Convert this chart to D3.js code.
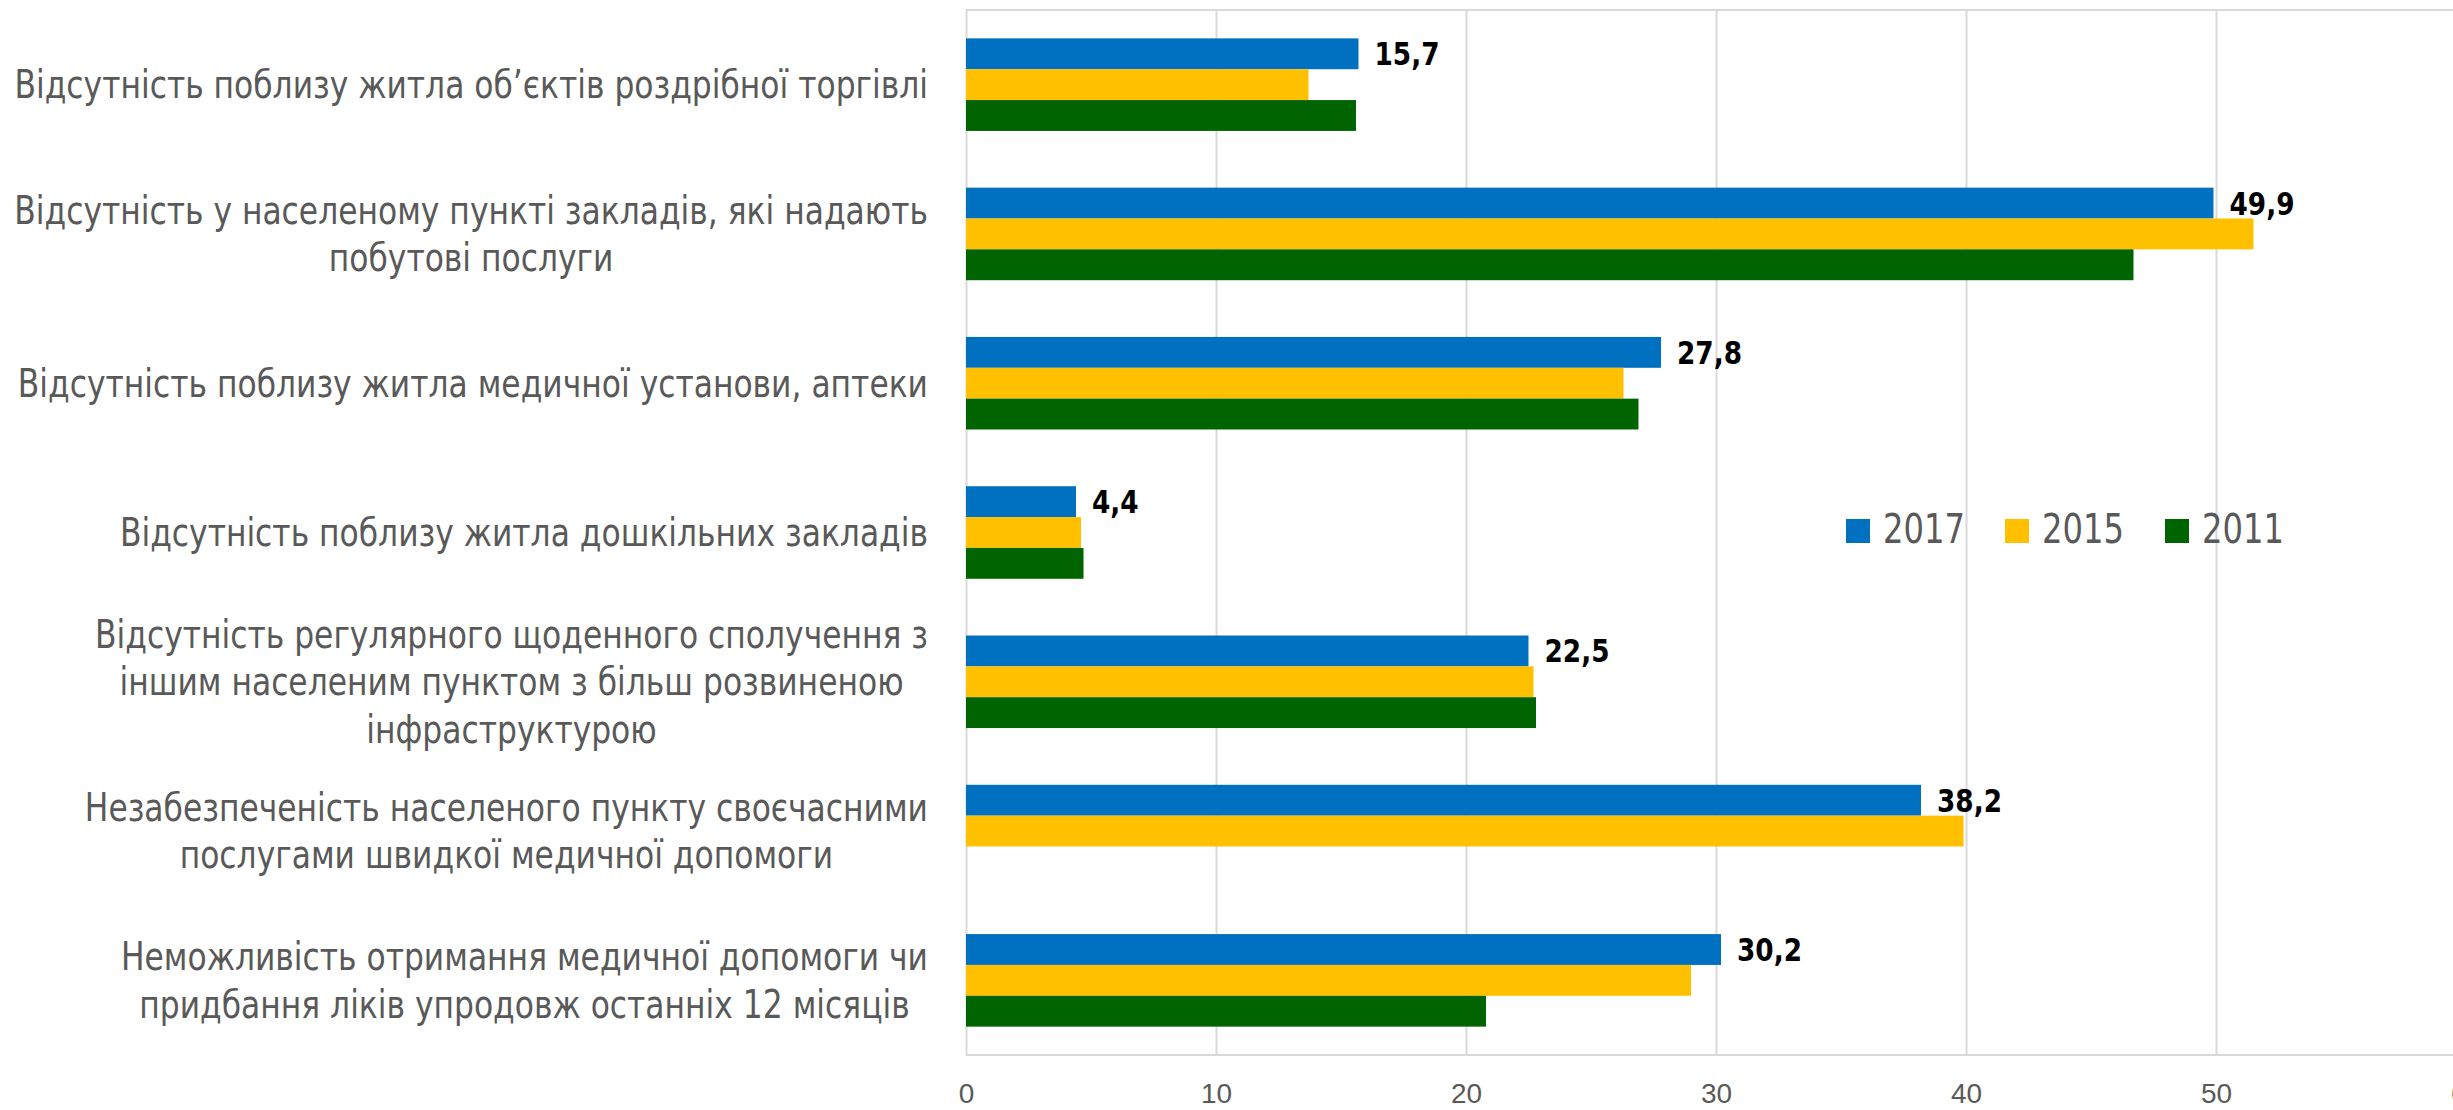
<!DOCTYPE html>
<html>
<head>
<meta charset="utf-8">
<script src="https://cdn.jsdelivr.net/npm/d3@7"></script>
<style>
body { margin: 0; background: #fff; }
svg { display: block; font-family: "Liberation Sans Narrow", "DejaVu Sans Condensed", Roboto, sans-serif; }
</style>
</head>
<body>
<svg id="chart"></svg>
<script>

    // Data
    var categories = [
        ["Відсутність поблизу житла об’єктів роздрібної торгівлі"],
        ["Відсутність у населеному пункті закладів, які надають", "побутові послуги"],
        ["Відсутність поблизу житла медичної установи, аптеки"],
        ["Відсутність поблизу житла дошкільних закладів"],
        ["Відсутність регулярного щоденного сполучення з", "іншим населеним пунктом з більш розвиненою", "інфраструктурою"],
        ["Незабезпеченість населеного пункту своєчасними", "послугами швидкої медичної допомоги"],
        ["Неможливість отримання медичної допомоги чи", "придбання ліків упродовж останніх 12 місяців"]
    ];
    var series = ["2017", "2015", "2011"];
    var values2017 = [15.7, 49.9, 27.8, 4.4, 22.5, 38.2, 30.2];
    var values2015 = [13.7, 51.5, 26.3, 4.6, 22.7, 39.9, 29.0];
    var values2011 = [15.6, 46.7, 26.9, 4.7, 22.8, null, 20.8];
    var xTicks = [0, 10, 20, 30, 40, 50, 60];
    var colors = ["#0070C0", "#FFC000", "#006400"];

    var width = 2453;
    var height = 1110;
    var plotTop = 10;
    var plotBottom = 1055;
    var tall = 1.12; // glyphs in the original are taller than the fallback font

    var svg = d3.select("#chart").attr("width", width).attr("height", height);

    // size a font so that a given text has a given width
    function fitFont(text, weight, target) {
        var t = svg.append("text").attr("font-size", 100).attr("font-weight", weight).text(text);
        var w = t.node().getComputedTextLength();
        t.remove();
        return 100 * target / w;
    }
    // enlarge glyphs but keep the width they had
    function stretch(sel) {
        sel.each(function () {
            var t = d3.select(this);
            var w = this.getComputedTextLength();
            t.attr("font-size", +t.attr("font-size") * tall)
                .attr("textLength", w)
                .attr("lengthAdjust", "spacingAndGlyphs");
        });
    }
    var labelSize = fitFont(categories[0][0], "normal", 914);
    var tickSize = fitFont("50", "normal", 32);
    var valueSize = fitFont("49,9", "bold", 65);
    var legendSize = fitFont("2017", "normal", 82);

    var x = d3.scaleLinear().domain([0, 60]).range([966, 2466]);
    var y = d3.scaleBand()
        .domain(d3.range(categories.length))
        .range([plotTop, plotBottom])
        .paddingInner(0.38)
        .paddingOuter(0.19);
    var ySub = d3.scaleBand().domain(series).range([0, y.bandwidth()]);

    var rows = categories.map(function (c, i) {
        return { i: i, lines: c, vals: [values2017[i], values2015[i], values2011[i]] };
    });

    // gridlines
    svg.append("g")
        .attr("transform", "translate(0," + plotBottom + ")")
        .call(d3.axisBottom(x).tickValues(xTicks).tickSize(-(plotBottom - plotTop)).tickFormat(""))
        .call(function (g) { g.select(".domain").remove(); })
        .selectAll("line").attr("stroke", "#d9d9d9").attr("stroke-width", 2);

    svg.append("line")
        .attr("x1", x(0)).attr("x2", x(60))
        .attr("y1", plotTop).attr("y2", plotTop)
        .attr("stroke", "#d9d9d9").attr("stroke-width", 2);
    svg.append("line")
        .attr("x1", x(0)).attr("x2", x(60))
        .attr("y1", plotBottom).attr("y2", plotBottom)
        .attr("stroke", "#d9d9d9").attr("stroke-width", 2);

    // x tick labels
    svg.append("g")
        .attr("transform", "translate(0," + plotBottom + ")")
        .call(d3.axisBottom(x).tickValues(xTicks).tickSize(0).tickPadding(0))
        .call(function (g) { g.select(".domain").remove(); })
        .selectAll("text")
        .attr("y", 38)
        .attr("dy", "0.35em")
        .attr("fill", "#595959")
        .attr("font-size", tickSize)
        .attr("font-family", null);

    // bars
    var group = svg.selectAll("g.cat").data(rows).enter().append("g")
        .attr("class", "cat")
        .attr("transform", function (d) { return "translate(0," + y(d.i) + ")"; });

    group.selectAll("rect")
        .data(function (d) { return d.vals.map(function (v, k) { return { v: v, k: k }; }).filter(function (e) { return e.v != null; }); })
        .enter().append("rect")
        .attr("x", x(0))
        .attr("y", function (e) { return ySub(series[e.k]); })
        .attr("width", function (e) { return x(e.v) - x(0); })
        .attr("height", ySub.bandwidth())
        .attr("fill", function (e) { return colors[e.k]; });

    // value labels for 2017
    group.append("text")
        .attr("x", function (d) { return x(d.vals[0]) + 16; })
        .attr("y", ySub("2017") + ySub.bandwidth() / 2)
        .attr("dy", "0.35em")
        .attr("font-size", valueSize)
        .attr("font-weight", "bold")
        .attr("fill", "#000")
        .text(function (d) { return d3.format(".1f")(d.vals[0]).replace(".", ","); })
        .call(stretch);

    // category labels: block right-aligned, lines centred in block
    var labelRight = 928;
    var lineH = 47.5;
    rows.forEach(function (d) {
        var cy = y(d.i) + y.bandwidth() / 2;
        var g = svg.append("g");
        var n = d.lines.length;
        var texts = d.lines.map(function (line, j) {
            return g.append("text")
                .attr("y", cy + (j - (n - 1) / 2) * lineH)
                .attr("dy", "0.35em")
                .attr("text-anchor", "middle")
                .attr("font-size", labelSize)
                .attr("fill", "#595959")
                .text(line);
        });
        var maxW = d3.max(texts, function (t) { return t.node().getComputedTextLength(); });
        texts.forEach(function (t) { t.attr("x", labelRight - maxW / 2).call(stretch); });
    });

    // legend
    var legendX = [1846, 2005, 2165];
    var legend = svg.selectAll("g.legend").data(series).enter().append("g")
        .attr("class", "legend")
        .attr("transform", function (d, i) { return "translate(" + legendX[i] + ",519)"; });
    legend.append("rect")
        .attr("width", 24).attr("height", 24)
        .attr("fill", function (d, i) { return colors[i]; });
    legend.append("text")
        .attr("x", 37).attr("y", 24)
        .attr("font-size", legendSize)
        .attr("fill", "#595959")
        .text(function (d) { return d; })
        .call(stretch);

</script>
</body>
</html>
